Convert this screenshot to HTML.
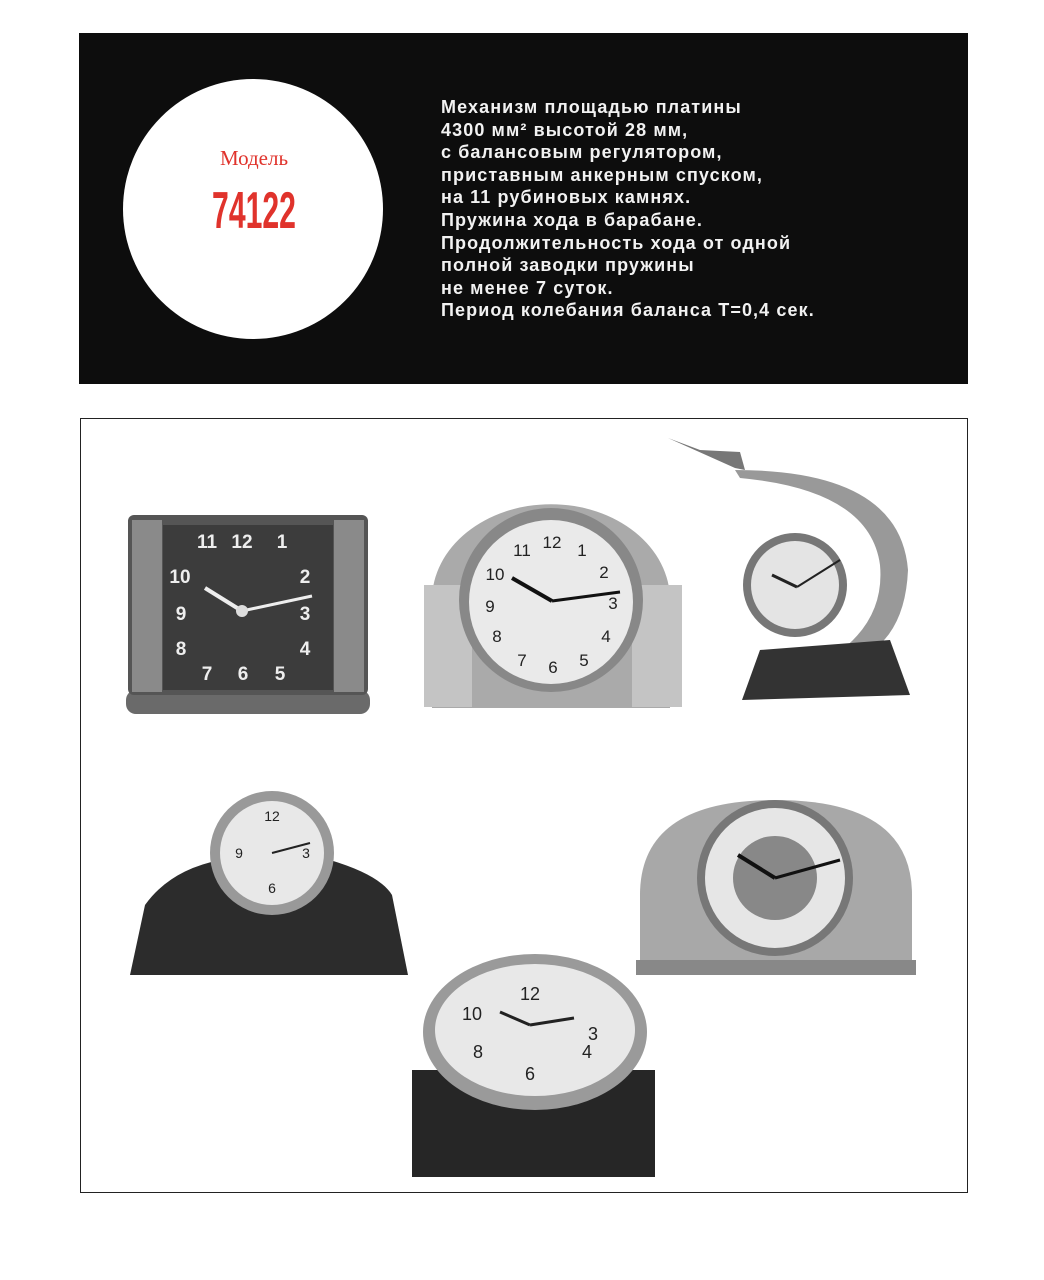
<!DOCTYPE html>
<html><head><meta charset="utf-8">
<style>
html,body{margin:0;padding:0;background:#fff;}
body{width:1044px;height:1280px;position:relative;overflow:hidden;font-family:"Liberation Sans",sans-serif;}
#banner{position:absolute;left:79px;top:33px;width:889px;height:351px;background:#0d0d0d;}
#circle{position:absolute;left:123px;top:79px;width:260px;height:260px;border-radius:50%;background:#fff;}
.red{position:absolute;color:#e0332c;text-align:center;width:184px;left:162px;}
#txt{position:absolute;left:441px;top:96px;color:#f2f2f2;font-weight:bold;font-size:18px;line-height:22.6px;white-space:pre;letter-spacing:1.1px;}
#frame{position:absolute;left:80px;top:418px;width:886px;height:773px;border:1px solid #222;}
svg{position:absolute;left:0;top:0;}
</style></head><body>
<div id="banner"></div>
<div id="circle"></div>
<div class="red" style="top:146px;font-family:'Liberation Serif',serif;font-size:21px;">Модель</div>
<div class="red" style="top:181px;font-family:'Liberation Sans Narrow','Liberation Sans',sans-serif;font-weight:bold;font-size:52px;transform:scaleX(0.58);">74122</div>
<div id="txt">Механизм площадью платины
4300 мм² высотой 28 мм,
с балансовым регулятором,
приставным анкерным спуском,
на 11 рубиновых камнях.
Пружина хода в барабане.
Продолжительность хода от одной
полной заводки пружины
не менее 7 суток.
Период колебания баланса T=0,4 сек.</div>
<div id="frame"></div>
<svg width="1044" height="1280" viewBox="0 0 1044 1280" font-family="Liberation Sans,sans-serif">
<!-- clock 1 -->
<rect x="126" y="690" width="244" height="24" rx="10" fill="#6a6a6a"/>
<rect x="128" y="515" width="240" height="180" rx="6" fill="#555"/>
<rect x="132" y="520" width="30" height="172" fill="#8a8a8a"/>
<rect x="334" y="520" width="30" height="172" fill="#8a8a8a"/>
<rect x="163" y="525" width="170" height="165" fill="#3c3c3c"/>
<g fill="#eee" font-weight="bold" font-size="19" text-anchor="middle">
<text x="207" y="548">11</text><text x="242" y="548">12</text><text x="282" y="548">1</text>
<text x="180" y="583">10</text><text x="305" y="583">2</text>
<text x="181" y="620">9</text><text x="305" y="620">3</text>
<text x="181" y="655">8</text><text x="305" y="655">4</text>
<text x="207" y="680">7</text><text x="243" y="680">6</text><text x="280" y="680">5</text>
</g>
<line x1="242" y1="611" x2="205" y2="588" stroke="#eee" stroke-width="4"/>
<line x1="242" y1="611" x2="312" y2="596" stroke="#eee" stroke-width="3"/>
<circle cx="242" cy="611" r="6" fill="#ddd"/>
<!-- clock 2 -->
<path d="M432 708 V600 A118 95 0 0 1 670 600 V708 Z" fill="#aaa"/>
<rect x="424" y="585" width="48" height="122" fill="#c4c4c4"/>
<rect x="632" y="585" width="50" height="122" fill="#c4c4c4"/>
<circle cx="551" cy="600" r="92" fill="#888"/>
<circle cx="551" cy="602" r="82" fill="#eaeaea"/>
<g fill="#222" font-size="17" text-anchor="middle">
<text x="552" y="548">12</text><text x="582" y="556">1</text><text x="522" y="556">11</text>
<text x="604" y="578">2</text><text x="495" y="580">10</text>
<text x="613" y="609">3</text><text x="490" y="612">9</text>
<text x="606" y="642">4</text><text x="497" y="642">8</text>
<text x="584" y="666">5</text><text x="553" y="673">6</text><text x="522" y="666">7</text>
</g>
<line x1="552" y1="601" x2="512" y2="578" stroke="#111" stroke-width="4"/>
<line x1="552" y1="601" x2="620" y2="592" stroke="#111" stroke-width="3"/>
<!-- clock 3 -->
<path d="M668 438 L700 450 L740 452 L745 470 L735 468 Z" fill="#777"/>
<path d="M735 470 Q900 470 908 570 Q905 640 855 660 L835 655 Q885 620 880 565 Q870 490 740 478 Z" fill="#999"/>
<path d="M742 700 L760 650 L890 640 L910 695 Z" fill="#333"/>
<circle cx="795" cy="585" r="52" fill="#777"/>
<circle cx="795" cy="585" r="44" fill="#e4e4e4"/>
<line x1="797" y1="587" x2="840" y2="560" stroke="#222" stroke-width="2"/>
<line x1="797" y1="587" x2="772" y2="575" stroke="#222" stroke-width="3"/>
<!-- clock 4 -->
<path d="M130 975 L145 905 Q170 870 220 860 L330 860 Q380 875 392 895 L408 975 Z" fill="#2c2c2c"/>
<circle cx="272" cy="853" r="62" fill="#999"/>
<circle cx="272" cy="853" r="52" fill="#e8e8e8"/>
<g fill="#222" font-size="14" text-anchor="middle">
<text x="272" y="821">12</text><text x="239" y="858">9</text><text x="306" y="858">3</text><text x="272" y="893">6</text>
</g>
<line x1="272" y1="853" x2="310" y2="843" stroke="#222" stroke-width="2"/>
<!-- clock 5 -->
<path d="M640 975 V895 Q640 800 775 800 Q912 800 912 895 V975 Z" fill="#a8a8a8"/>
<rect x="636" y="960" width="280" height="15" fill="#888"/>
<circle cx="775" cy="878" r="78" fill="#777"/>
<circle cx="775" cy="878" r="70" fill="#e6e6e6"/>
<circle cx="775" cy="878" r="42" fill="#888"/>
<line x1="775" y1="878" x2="840" y2="860" stroke="#111" stroke-width="3"/>
<line x1="775" y1="878" x2="738" y2="855" stroke="#111" stroke-width="4"/>
<!-- clock 6 -->
<rect x="412" y="1070" width="243" height="107" fill="#262626"/>
<ellipse cx="535" cy="1032" rx="112" ry="78" fill="#9a9a9a"/>
<ellipse cx="535" cy="1030" rx="100" ry="66" fill="#e8e8e8"/>
<g fill="#222" font-size="18" text-anchor="middle">
<text x="530" y="1000">12</text><text x="472" y="1020">10</text><text x="593" y="1040">3</text><text x="478" y="1058">8</text><text x="587" y="1058">4</text><text x="530" y="1080">6</text>
</g>
<line x1="530" y1="1025" x2="574" y2="1018" stroke="#222" stroke-width="3"/>
<line x1="530" y1="1025" x2="500" y2="1012" stroke="#222" stroke-width="3"/>
</svg>
</body></html>
